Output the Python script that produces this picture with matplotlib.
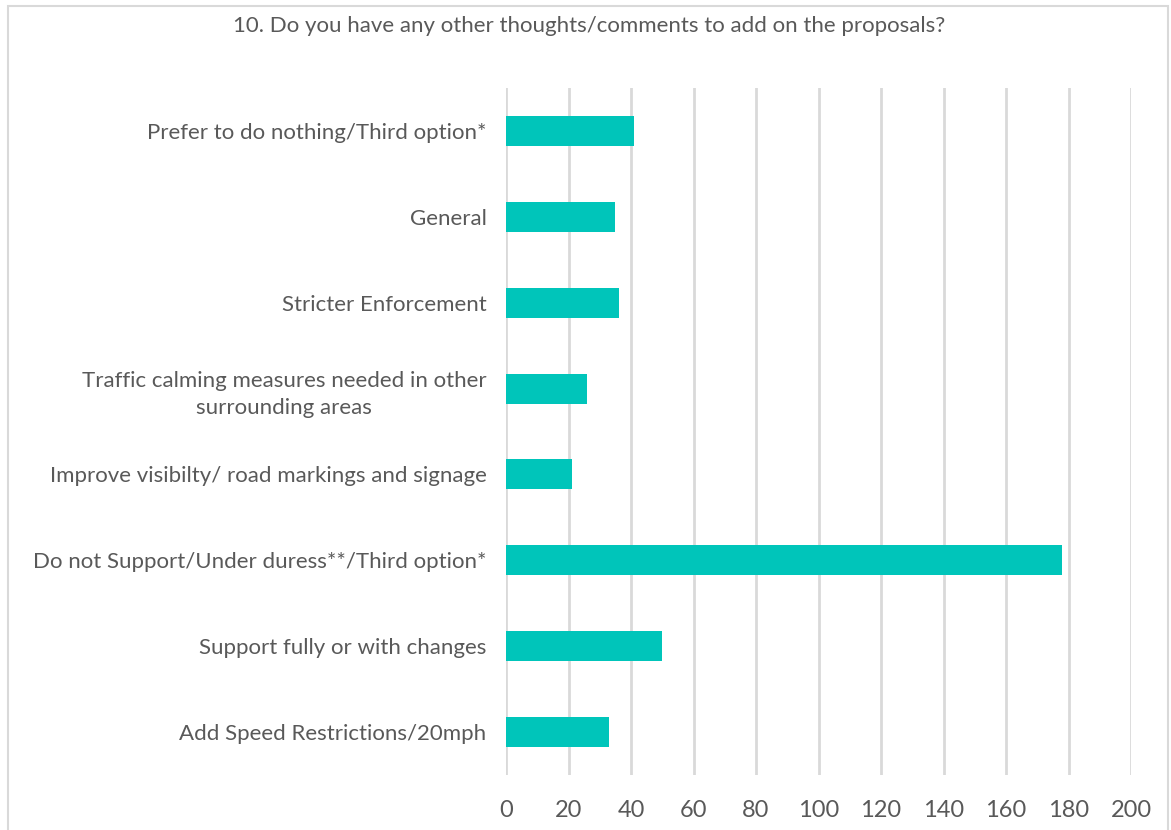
import matplotlib
matplotlib.use("Agg")
import matplotlib.pyplot as plt
from matplotlib.patches import Rectangle

categories = [
    "Add Speed Restrictions/20mph",
    "Support fully or with changes",
    "Do not Support/Under duress**/Third option*",
    "Improve visibilty/ road markings and signage",
    "Traffic calming measures needed in other\nsurrounding areas",
    "Stricter Enforcement",
    "General",
    "Prefer to do nothing/Third option*",
]
values = [33, 50, 178, 21, 26, 36, 35, 41]
xticks = [0, 20, 40, 60, 80, 100, 120, 140, 160, 180, 200]

plt.rcParams['font.family'] = ['Lato', 'DejaVu Sans']
text_color = "#595959"
bar_color = "#00C5BA"
grid_color = "#D9D9D9"

fig = plt.figure(figsize=(11.71, 8.30), dpi=100)
W, H = 1171, 830
ax = fig.add_axes([506 / W, 1 - 775 / H, (1131 - 506) / W, (775 - 88) / H])

ax.barh(range(len(categories)), values, height=0.35, color=bar_color, zorder=3)
ax.set_xlim(0, 200)
ax.set_ylim(-0.5, len(categories) - 0.5)
ax.set_xticks(xticks)
ax.set_yticks(range(len(categories)))
ax.set_yticklabels(categories, fontsize=16, color=text_color, linespacing=1.45)
ax.set_xticklabels([str(t) for t in xticks], fontsize=17, color=text_color)
ax.tick_params(axis='both', length=0)
ax.tick_params(axis='x', pad=18)
ax.tick_params(axis='y', pad=14)
for lbl in ax.get_yticklabels():
    lbl.set_horizontalalignment('right')
    lbl.set_multialignment('center')
ax.xaxis.grid(True, color=grid_color, linewidth=2, zorder=0)
ax.yaxis.grid(False)
for s in ax.spines.values():
    s.set_visible(False)

fig.text(589 / W, 1 - 26 / H, "10. Do you have any other thoughts/comments to add on the proposals?",
         ha='center', va='center', fontsize=16, color=text_color)

# outer chart border
fig.patches.append(Rectangle((8 / W, -0.01), (1168 - 8) / W, (1 - 6 / H) + 0.01,
                             transform=fig.transFigure, fill=False,
                             edgecolor="#D9D9D9", linewidth=1.5))

fig.savefig("out.png", dpi=100, facecolor="white")
